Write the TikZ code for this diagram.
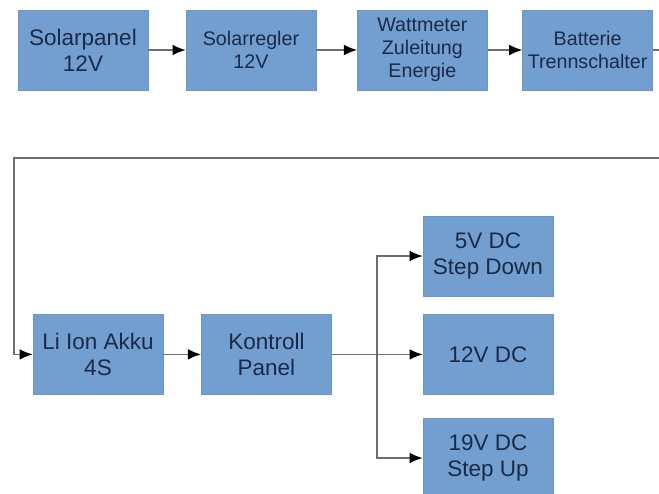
\documentclass[tikz,border=0pt]{standalone}
\usepackage{fontspec}
\setmainfont{Liberation Sans}
\usetikzlibrary{positioning, arrows.meta}
\definecolor{boxblue}{HTML}{729FCF}
\definecolor{boxedge}{HTML}{6A95C8}
\definecolor{boxtext}{HTML}{1B2A48}
\definecolor{linegray}{HTML}{6E6E6E}

\begin{document}
\begin{tikzpicture}[>={Latex[length=3.3mm,width=2.7mm,color=black]},
  block/.style={draw=boxedge, fill=boxblue, text=boxtext, align=center, inner sep=0pt, minimum width=\boxw, minimum height=\boxh},
  bigtext/.style={font=\fontsize{16}{18.5}\selectfont},
  smalltext/.style={font=\fontsize{14}{16.2}\selectfont},
  wire/.style={draw=linegray, line width=1.1pt}]
\def\boxw{3.25cm}
\def\boxh{2cm}
\def\rowTop{-1.25}
\def\rowBottom{-8.86}

\useasboundingbox (0,0) rectangle (16.475,-12.35);

%Top row
\node (panel) at (2.075,\rowTop) [block, bigtext] {Solarpanel\\12V};
\node (regler) at (6.275,\rowTop) [block, smalltext] {Solarregler\\12V};
\node (watt) at (10.56,\rowTop) [block, smalltext] {Wattmeter\\Zuleitung\\Energie};
\node (trenn) at (14.69,\rowTop) [block, smalltext] {Batterie\\Trennschalter};

%Bottom row
\node (akku) at (2.45,\rowBottom) [block, bigtext] {Li Ion Akku\\4S};
\node (kontroll) at (6.66,\rowBottom) [block, bigtext] {Kontroll\\Panel};

%Outputs
\node (out5) at (12.2,-6.4) [block, bigtext] {5V DC\\Step Down};
\node (out12) at (12.2,\rowBottom) [block, bigtext] {12V DC};
\node (out19) at (12.2,-11.45) [block, bigtext] {19V DC\\Step Up};

\coordinate (far) at (16.9,-3.95);
\coordinate (turn) at (0.35,-3.95);
\coordinate (split) at (9.425,\rowBottom);

\path[->, wire] (panel) edge (regler);
\path[->, wire] (regler) edge (watt);
\path[->, wire] (watt) edge (trenn);

\draw[->, wire] (trenn.east) -| (far) -- (turn) |- (akku.west);

\path[->, wire] (akku) edge (kontroll);
\draw[->, wire] (kontroll.east) -- (out12.west);
\draw[->, wire] (split) |- (out5.west);
\draw[->, wire] (split) |- (out19.west);

\end{tikzpicture}
\end{document}
